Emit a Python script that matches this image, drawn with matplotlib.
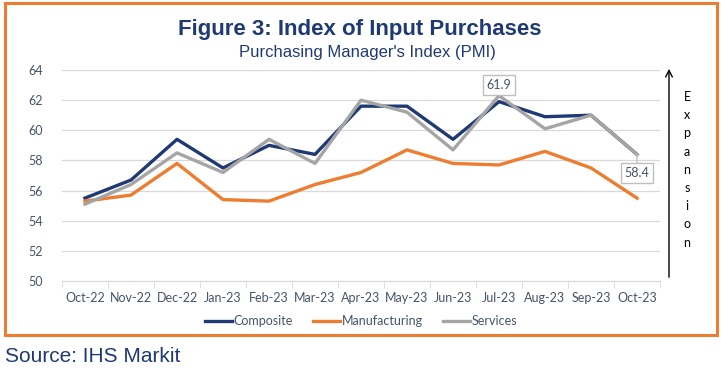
import matplotlib
matplotlib.use("Agg")
from matplotlib import pyplot as plt
from matplotlib.patches import Rectangle, FancyArrowPatch
from matplotlib import font_manager

months = ["Oct-22", "Nov-22", "Dec-22", "Jan-23", "Feb-23", "Mar-23", "Apr-23",
          "May-23", "Jun-23", "Jul-23", "Aug-23", "Sep-23", "Oct-23"]
composite = [55.5, 56.7, 59.4, 57.5, 59.0, 58.4, 61.6, 61.6, 59.4, 61.9, 60.9, 61.0, 58.4]
manufacturing = [55.3, 55.7, 57.8, 55.4, 55.3, 56.4, 57.2, 58.7, 57.8, 57.7, 58.6, 57.5, 55.5]
services = [55.1, 56.4, 58.5, 57.2, 59.4, 57.8, 62.0, 61.2, 58.7, 62.3, 60.1, 61.0, 58.4]
y_ticks = [50, 52, 54, 56, 58, 60, 62, 64]

navy = "#1F3A73"
orange = "#ED7D31"
grey = "#A5A5A5"
txt = "#44546A"
names = {f.name for f in font_manager.fontManager.ttflist}
head = ["Liberation Sans Narrow"] if "Liberation Sans Narrow" in names else ["Liberation Sans"]
head = head + ["DejaVu Sans"]
body = ["Lato", "DejaVu Sans"]

fig = plt.figure(figsize=(7.21, 3.75), dpi=100)
W, H = 721, 375

# orange frame round the chart
fig.patches.append(Rectangle((5 / W, 1 - 335 / H), 712 / W, 332 / H, transform=fig.transFigure,
                             fill=False, edgecolor=orange, linewidth=2.2))

ax = fig.add_axes([62 / W, 1 - 281 / H, 598 / W, 211 / H])
x = range(len(months))
ax.plot(x, composite, color=navy, lw=2.4, label="Composite")
ax.plot(x, manufacturing, color=orange, lw=2.4, label="Manufacturing")
ax.plot(x, services, color=grey, lw=2.4, label="Services")

ax.set_xlim(-0.5, 12.5)
ax.set_ylim(50, 64)
ax.set_yticks(y_ticks)
ax.set_xticks(list(x))
ax.set_xticklabels(months)
ax.set_xticks([i + 0.5 for i in range(-1, 13)], minor=True)
ax.tick_params(axis="x", which="major", length=0, pad=8, labelcolor=txt)
ax.tick_params(axis="x", which="minor", length=5, color="#D9D9D9")
ax.tick_params(axis="y", length=0, pad=14, labelcolor=txt)
for lab in ax.get_xticklabels() + ax.get_yticklabels():
    lab.set_family(body)
    lab.set_fontsize(9)
ax.grid(axis="y", color="#D9D9D9", lw=0.9)
ax.set_axisbelow(True)
for s in ["top", "right", "left"]:
    ax.spines[s].set_visible(False)
ax.spines["bottom"].set_color("#D9D9D9")

# value callouts
box = dict(boxstyle="square,pad=0.3", fc="white", ec="#BFBFBF", lw=1)
ax.annotate(f"{composite[9]}", xy=(9, services[9]), xytext=(9, 63.0),
            ha="center", va="center", fontsize=9, color=txt, bbox=box, family=body,
            arrowprops=dict(arrowstyle="-", color="#BFBFBF", lw=1, shrinkA=0, shrinkB=0))
ax.annotate(f"{services[12]}", xy=(12, services[12]), xytext=(12, 57.15),
            ha="center", va="center", fontsize=9, color=txt, bbox=box, family=body,
            arrowprops=dict(arrowstyle="-", color="#BFBFBF", lw=1, shrinkA=0, shrinkB=0))

ax.legend(loc="upper center", bbox_to_anchor=(0.5, -0.11), ncol=3, frameon=False,
          prop={"family": body, "size": 9},
          handlelength=2.2, handletextpad=0.1, columnspacing=1.6, labelcolor=txt)

# expansion arrow on the right
fig.add_artist(FancyArrowPatch((669 / W, 1 - 280 / H), (669 / W, 1 - 66 / H),
                               transform=fig.transFigure, arrowstyle="->",
                               mutation_scale=12, color="black", lw=1))
for i, ch in enumerate("Expansion"):
    fig.text(687 / W, 1 - (97 + i * 18.2) / H, ch, ha="center", va="center",
             fontsize=9, color="black", family=body)

fig.text(360 / W, 1 - 30 / H, "Figure 3: Index of Input Purchases", ha="center", va="center",
         fontsize=16, fontweight="bold", color=navy, family=head)
fig.text(367 / W, 1 - 53 / H, "Purchasing Manager's Index (PMI)", ha="center", va="center",
         fontsize=12, color=navy, family=head)
fig.text(5 / W, 1 - 356 / H, "Source: IHS Markit", ha="left", va="center",
         fontsize=15, color=navy, family=head)

fig.savefig("out.png", dpi=100)
